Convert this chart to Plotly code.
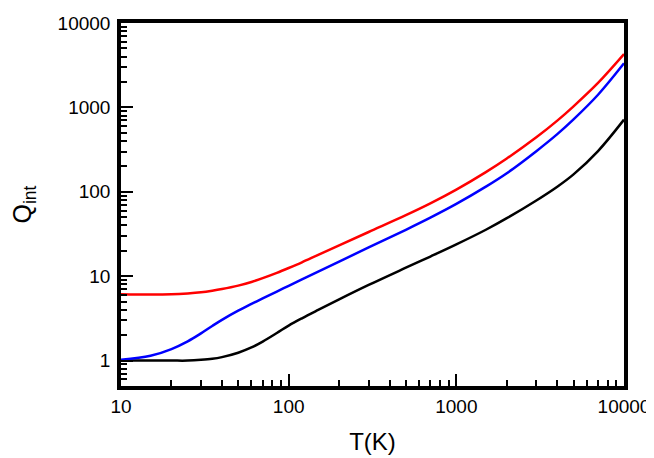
import plotly.graph_objects as go

T = [10, 15, 20, 25, 30, 35, 40, 50, 60, 70, 85, 100, 120, 150, 200, 300, 500, 700,
     1000, 1500, 2000, 3000, 4000, 5000, 7000, 10000]

q_red = [6.1, 6.05, 6.1, 6.25, 6.45, 6.73, 7.04, 7.73, 8.55, 9.47, 10.94, 12.5, 14.6, 17.9, 23.2,
         33.4, 52.8, 72.8, 106, 171, 248, 442, 697, 1030, 1950, 4280]
q_blue = [1.02, 1.14, 1.37, 1.69, 2.1, 2.57, 3.04, 3.9, 4.69, 5.46, 6.58, 7.69, 9.15, 11.3, 14.9,
          21.9, 35.5, 49.4, 71.8, 115, 166, 303, 482, 721, 1413, 3330]
q_black = [1.0, 1.0, 1.0, 1.0, 1.02, 1.05, 1.1, 1.24, 1.43, 1.68, 2.12, 2.6, 3.17, 3.98, 5.31,
           7.87, 12.6, 17.1, 23.8, 35.5, 48.7, 79, 115, 161, 304, 716]

x_ticks = [10, 100, 1000, 10000]
y_ticks = [1, 10, 100, 1000, 10000]

fig = go.Figure()
for ys, col in [(q_black, "black"), (q_blue, "blue"), (q_red, "red")]:
    fig.add_trace(go.Scatter(x=T, y=ys, mode="lines",
                             line=dict(color=col, width=2.5, shape="spline", smoothing=1.0),
                             showlegend=False, hoverinfo="skip"))

fam = "Arial, Liberation Sans, sans-serif"
font = dict(family=fam, size=19, color="black")

minor_x = [m * d for d in [10, 100, 1000] for m in range(2, 10)]
minor_y = [m * d for d in [0.1, 1, 10, 100, 1000] for m in range(2, 10) if 0.5 <= m * d <= 10000]

common = dict(ticks="inside", ticklen=12, tickwidth=2, tickcolor="black",
              showline=True, linecolor="black", linewidth=3.5, mirror=True,
              showgrid=False, zeroline=False, tickfont=font, automargin=False)

fig.update_xaxes(type="log", range=[1, 4], tickmode="array", tickvals=x_ticks,
                 ticktext=[str(v) for v in x_ticks],
                 minor=dict(tickmode="array", tickvals=minor_x, ticks="inside", ticklen=6,
                            tickwidth=1.5, tickcolor="black", showgrid=False),
                 title=dict(text="T(K)", font=dict(family=fam, size=24, color="black"),
                            standoff=19),
                 **common)
fig.update_yaxes(type="log", range=[-0.30103, 4], tickmode="array", tickvals=y_ticks,
                 ticktext=[str(v) for v in y_ticks], ticklabelstandoff=3,
                 minor=dict(tickmode="array", tickvals=minor_y, ticks="inside", ticklen=6,
                            tickwidth=1.5, tickcolor="black", showgrid=False),
                 title=dict(text="Q<sub>int</sub>", font=dict(family=fam, size=25, color="black"),
                            standoff=22),
                 **common)

# page body adds an 8px offset, so margins are shifted to compensate
fig.update_layout(width=654, height=458, margin=dict(l=113, r=38, t=15, b=80),
                  plot_bgcolor="white", paper_bgcolor="white")

fig.write_html("out.html")
